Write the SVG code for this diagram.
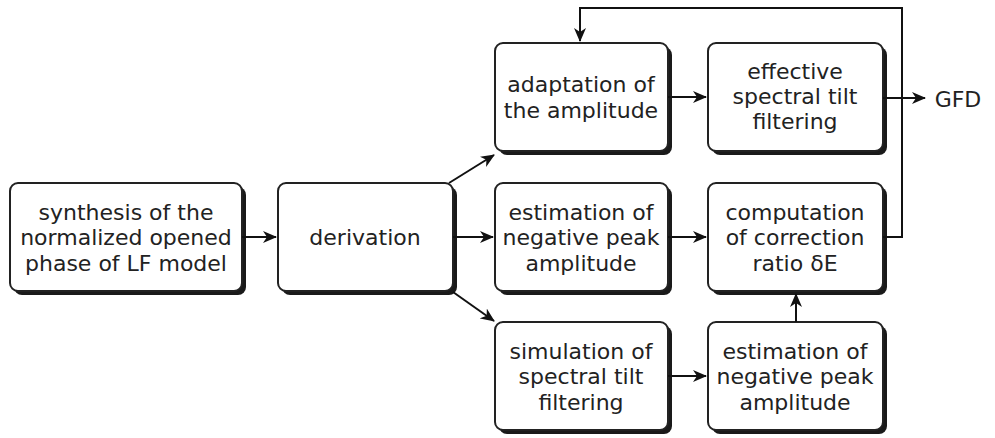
<svg xmlns="http://www.w3.org/2000/svg" width="995" height="438" viewBox="0 0 995 438">
<defs>
<marker id="ah" markerWidth="14" markerHeight="12" refX="13" refY="6" orient="auto" markerUnits="userSpaceOnUse">
<path d="M0,0 L14,6 L0,12 L4,6 Z" fill="#111"/>
</marker>
</defs>
<style>
.sh{fill:#1a1a1a}
.bx{fill:#fff;stroke:#222;stroke-width:2}
text{font-family:"DejaVu Sans",Verdana,sans-serif;font-size:22px;fill:#222;text-anchor:middle}
.ln{fill:none;stroke:#111;stroke-width:2}
</style>
<rect width="995" height="438" fill="#fff"/>
<g id="synthesis">
<rect class="sh" x="14" y="187" width="232" height="108" rx="8"/>
<rect class="bx" x="10" y="183" width="232" height="108" rx="8"/>
<text x="126" y="220">synthesis of the</text>
<text x="126" y="245">normalized opened</text>
<text x="126" y="271">phase of LF model</text>
</g>
<g id="derivation">
<rect class="sh" x="282" y="187" width="175" height="108" rx="8"/>
<rect class="bx" x="278" y="183" width="175" height="108" rx="8"/>
<text x="365" y="245">derivation</text>
</g>
<g id="adaptation">
<rect class="sh" x="499" y="47" width="173" height="108" rx="8"/>
<rect class="bx" x="495" y="43" width="173" height="108" rx="8"/>
<text x="581" y="92">adaptation of</text>
<text x="581" y="118">the amplitude</text>
</g>
<g id="effective">
<rect class="sh" x="712" y="47" width="175" height="108" rx="8"/>
<rect class="bx" x="708" y="43" width="175" height="108" rx="8"/>
<text x="795" y="79">effective</text>
<text x="795" y="104">spectral tilt</text>
<text x="795" y="129">filtering</text>
</g>
<g id="estimation1">
<rect class="sh" x="499" y="187" width="173" height="108" rx="8"/>
<rect class="bx" x="495" y="183" width="173" height="108" rx="8"/>
<text x="581" y="220">estimation of</text>
<text x="581" y="245">negative peak</text>
<text x="581" y="271">amplitude</text>
</g>
<g id="computation">
<rect class="sh" x="712" y="187" width="175" height="108" rx="8"/>
<rect class="bx" x="708" y="183" width="175" height="108" rx="8"/>
<text x="795" y="220">computation</text>
<text x="795" y="245">of correction</text>
<text x="795" y="271">ratio δE</text>
</g>
<g id="simulation">
<rect class="sh" x="499" y="326" width="173" height="108" rx="8"/>
<rect class="bx" x="495" y="322" width="173" height="108" rx="8"/>
<text x="581" y="359">simulation of</text>
<text x="581" y="384">spectral tilt</text>
<text x="581" y="410">filtering</text>
</g>
<g id="estimation2">
<rect class="sh" x="712" y="326" width="175" height="108" rx="8"/>
<rect class="bx" x="708" y="322" width="175" height="108" rx="8"/>
<text x="795" y="359">estimation of</text>
<text x="795" y="384">negative peak</text>
<text x="795" y="410">amplitude</text>
</g>
<g id="gfd">
<text x="958" y="107">GFD</text>
</g>
<g id="connectors">
<line class="ln" x1="242" y1="237" x2="276" y2="237" marker-end="url(#ah)"/>
<line class="ln" x1="453" y1="237" x2="493" y2="237" marker-end="url(#ah)"/>
<line class="ln" x1="449" y1="183" x2="494" y2="155" marker-end="url(#ah)"/>
<line class="ln" x1="453" y1="292" x2="494" y2="321" marker-end="url(#ah)"/>
<line class="ln" x1="668" y1="97" x2="706" y2="97" marker-end="url(#ah)"/>
<line class="ln" x1="668" y1="237" x2="706" y2="237" marker-end="url(#ah)"/>
<line class="ln" x1="668" y1="376" x2="706" y2="376" marker-end="url(#ah)"/>
<line class="ln" x1="796" y1="322" x2="796" y2="294" marker-end="url(#ah)"/>
<line class="ln" x1="883" y1="98" x2="925" y2="98" marker-end="url(#ah)"/>
<polyline class="ln" points="883,237 902,237 902,8 580,8 580,41" marker-end="url(#ah)"/>
</g>
</svg>
